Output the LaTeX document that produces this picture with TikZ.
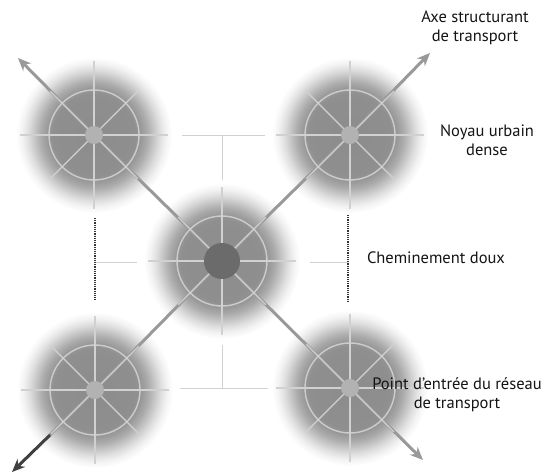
\documentclass[tikz,border=0pt]{standalone}
\usepackage{fontspec}
\setmainfont{PT Sans}
\usetikzlibrary{arrows.meta,positioning,calc}

\pgfdeclareradialshading{halo}{\pgfpoint{0bp}{0bp}}{%
  color(0bp)=(black!45); color(13bp)=(black!44); color(15bp)=(black!40);
  color(17bp)=(black!33); color(19bp)=(black!23); color(21bp)=(black!13);
  color(23bp)=(black!5); color(25bp)=(white); color(50bp)=(white)}

\begin{document}
\begin{tikzpicture}[x=1pt,y=-1pt,
    noyau/.style={circle, minimum size=156pt, inner sep=0pt, shading=halo},
    anneau/.style={draw=black!20, line width=1.4pt},
    rayon/.style={draw=black!18, line width=1.1pt},
    axe/.style={draw=black!40, line width=3pt},
    fleche/.style={axe, -{Stealth[length=13pt, width=11pt]}},
    doux/.style={draw=black!18, line width=1pt},
    douxpoint/.style={draw=black!80, line width=1.2pt, densely dotted},
    legende/.style={align=center, text=black!92, font=\fontsize{16.5}{19}\selectfont}]
    \useasboundingbox (0,0) rectangle (547,474);

    % Noyaux urbains
    \node[noyau] (tl) at (94,135) {};
    \node[noyau] (tr) at (350,135) {};
    \node[noyau] (c) at (222,261) {};
    \node[noyau] (bl) at (95,390) {};
    \node[noyau] (br) at (350,388) {};

    % Extremites des axes
    \coordinate (tipTL) at (18,58);
    \coordinate (tipTR) at (430,53);
    \coordinate (tipBR) at (423,460);
    \coordinate (tipBL) at (12,472);
    \coordinate (bldark) at (50,435);

    % Cheminements doux
    \coordinate (hautG) at (182,135);
    \coordinate (hautD) at (265,135);
    \coordinate (hautM) at (222,135);
    \coordinate (hautB) at (222,180);
    \coordinate (basG) at (180,388);
    \coordinate (basD) at (268,388);
    \coordinate (basM) at (222,388);
    \coordinate (basH) at (222,345);
    \coordinate (gaucheH) at (95,218);
    \coordinate (gaucheB) at (95,300);
    \coordinate (gaucheM) at (95,262);
    \coordinate (gaucheD) at (137,262);
    \coordinate (droiteH) at (348,215);
    \coordinate (droiteB) at (348,302);
    \coordinate (droiteM) at (348,262);
    \coordinate (droiteG) at (310,262);
    \draw[doux] (hautG) -- (hautD);
    \draw[doux] (hautM) -- (hautB);
    \draw[doux] (basG) -- (basD);
    \draw[doux] (basM) -- (basH);
    \draw[doux] (gaucheM) -- (gaucheD);
    \draw[doux] (droiteM) -- (droiteG);
    \draw[douxpoint] (gaucheH) -- (gaucheB);
    \draw[douxpoint] (droiteH) -- (droiteB);

    % Axes structurants
    \draw[axe] (tl.center) -- (c.center) -- (br.center);
    \draw[axe] (bl.center) -- (c.center) -- (tr.center);
    \draw[fleche] (tl.center) -- (tipTL);
    \draw[fleche] (tr.center) -- (tipTR);
    \draw[fleche] (br.center) -- (tipBR);
    \draw[axe] (bl.center) -- (bldark);
    \draw[fleche, draw=black!75] (bldark) -- (tipBL);

    % Anneaux et rayons
    \foreach \n in {tl,tr,c,bl,br} {
      \draw[anneau] (\n.center) circle (45pt);
      \foreach \a in {0,90} {
        \draw[rayon] (\n.center) ++(\a:74pt) -- ++(\a+180:148pt);
      }
      \foreach \a in {45,135} {
        \draw[rayon] (\n.center) ++(\a:62pt) -- ++(\a+180:124pt);
      }
    }
    \foreach \n in {tl,tr,bl,br} {
      \fill[black!30] (\n.center) circle (9pt);
    }
    \fill[black!58] (c.center) circle (18pt);

    % Legendes
    \node[legende] (lab-axe) at (475,28) {Axe structurant\\de transport};
    \node[legende] (lab-noyau) at (487,140) {Noyau urbain\\dense};
    \node[legende] (lab-doux) at (436,258) {Cheminement doux};
    \node[legende] (lab-entree) at (457,395) {Point d’entrée du réseau\\de transport};
\end{tikzpicture}
\end{document}
